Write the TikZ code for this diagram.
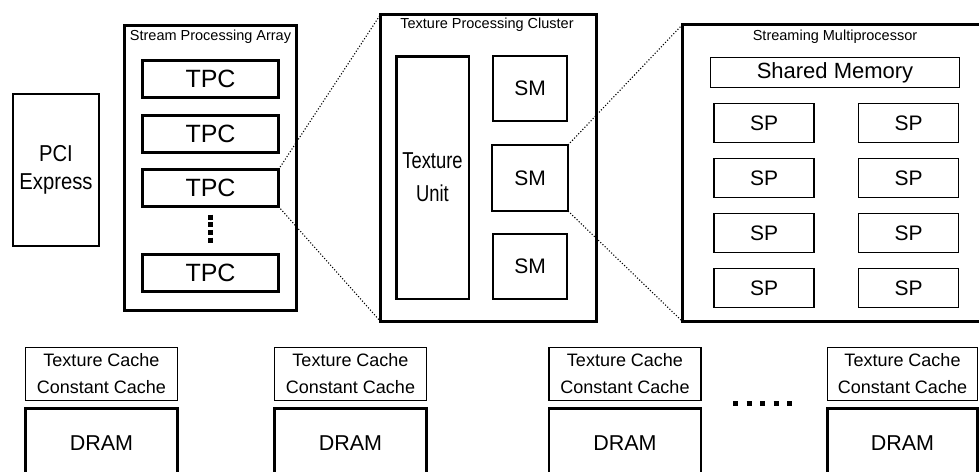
\documentclass[tikz,border=0pt]{standalone}
\usepackage{fontspec}
\setmainfont{Liberation Sans}
\newfontfamily\pcifont[FakeStretch=0.88]{Liberation Sans}
\newfontfamily\unitfont[FakeStretch=0.8]{Liberation Sans}
\usetikzlibrary{positioning}
\tikzset{
  outerbox/.style={draw,line width=3pt,inner sep=0pt,outer sep=0pt},
  boxtitle/.style={inner sep=0pt,font=\fontsize{14.5}{17}\selectfont},
  tpcbox/.style={draw,line width=3pt,minimum width=136pt,minimum height=37pt,
              inner sep=0pt,outer sep=0pt,font=\fontsize{25}{30}\selectfont},
  smbox/.style={draw,line width=2pt,minimum width=74pt,minimum height=65pt,
              inner sep=0pt,outer sep=0pt,font=\fontsize{21}{25}\selectfont},
  spbox/.style={draw,line width=1.8pt,minimum width=100pt,minimum height=39pt,
              inner sep=0pt,outer sep=0pt,font=\fontsize{21}{25}\selectfont},
  cachebox/.style={draw,line width=1.5pt,minimum width=152pt,minimum height=53pt,
              inner sep=0pt,outer sep=0pt,align=center,font=\fontsize{18}{27}\selectfont},
  drambox/.style={draw,line width=2.5pt,minimum width=152pt,minimum height=69pt,
              inner sep=0pt,outer sep=0pt,font=\fontsize{21.5}{26}\selectfont},
  zoomline/.style={line width=1.1pt,dash pattern=on 1.1pt off 1.9pt},
  vdots/.style={line width=4.5pt,dash pattern=on 5pt off 2.7pt},
  hdots/.style={line width=5pt,dash pattern=on 5pt off 8.5pt}
}
\begin{document}
\begin{tikzpicture}[x=1pt,y=-1pt]
  \useasboundingbox (0,0) rectangle (979,471);
  \clip (0,0) rectangle (979,471);

  \node[draw,line width=2pt,minimum width=86pt,minimum height=152pt,inner sep=0pt,
        align=center,font=\pcifont\fontsize{23}{28}\selectfont] (pci) at (56,170) {PCI\\Express};

  \node[outerbox,minimum width=172pt,minimum height=285pt] (spa) at (210.5,168) {};
  \node[boxtitle] (spatitle) at (210.5,37) {Stream Processing Array};
  \node[tpcbox] (tpc1) at (210.5,79) {TPC};
  \node[tpcbox,below=17.5pt of tpc1] (tpc2) {TPC};
  \node[tpcbox,below=17.5pt of tpc2] (tpc3) {TPC};
  \node[tpcbox,below=47.5pt of tpc3] (tpc4) {TPC};
  \draw[vdots] ([yshift=-8pt]tpc3.south) -- ([yshift=11.5pt]tpc4.north);

  \node[outerbox,minimum width=216pt,minimum height=307pt] (tpc) at (488.5,168) {};
  \node[boxtitle] (tpctitle) at (487,25) {Texture Processing Cluster};
  \node[draw,line width=2.5pt,minimum width=72.5pt,minimum height=242.5pt,inner sep=0pt,
        outer sep=0pt,align=center,font=\unitfont\fontsize{23}{33}\selectfont] (texunit) at (432.5,177.5) {Texture\\Unit};
  \node[smbox] (sm1) at (530,88.5) {SM};
  \node[smbox,minimum width=76pt,minimum height=66pt] (sm2) at (530,178) {SM};
  \node[smbox] (sm3) at (530,266) {SM};

  \node[outerbox,minimum width=317.5pt,minimum height=297pt] (smp) at (841.25,173) {};
  \node[boxtitle] (smptitle) at (835,37) {Streaming Multiprocessor};
  \node[draw,line width=1.5pt,minimum width=249pt,minimum height=30pt,inner sep=0pt,
        outer sep=0pt,font=\fontsize{22}{26}\selectfont] (shmem) at (835,72.5) {Shared Memory};
  \node[spbox] (sp1) at (764,123) {SP};
  \node[spbox,right=44.5pt of sp1] (sp2) {SP};
  \node[spbox,below=16pt of sp1] (sp3) {SP};
  \node[spbox,right=44.5pt of sp3] (sp4) {SP};
  \node[spbox,below=16pt of sp3] (sp5) {SP};
  \node[spbox,right=44.5pt of sp5] (sp6) {SP};
  \node[spbox,below=16pt of sp5] (sp7) {SP};
  \node[spbox,right=44.5pt of sp7] (sp8) {SP};

  \node[cachebox] (cache1) at (101.5,374) {Texture Cache\\Constant Cache};
  \node[cachebox] (cache2) at (350.5,374) {Texture Cache\\Constant Cache};
  \node[cachebox] (cache3) at (625,374) {Texture Cache\\Constant Cache};
  \node[cachebox,minimum width=150pt] (cache4) at (902.5,374) {Texture Cache\\Constant Cache};
  \node[drambox,below=8pt of cache1] (dram1) {DRAM};
  \node[drambox,below=8pt of cache2] (dram2) {DRAM};
  \node[drambox,below=8pt of cache3] (dram3) {DRAM};
  \node[drambox,minimum width=150pt,below=8pt of cache4] (dram4) {DRAM};
  \draw[hdots] (733,403) -- (792,403);

  \draw[zoomline] (tpc3.north east) -- (tpc.north west);
  \draw[zoomline] (tpc3.south east) -- (tpc.south west);
  \draw[zoomline] (sm2.north east) -- (smp.north west);
  \draw[zoomline] (sm2.south east) -- (smp.south west);
\end{tikzpicture}
\end{document}
